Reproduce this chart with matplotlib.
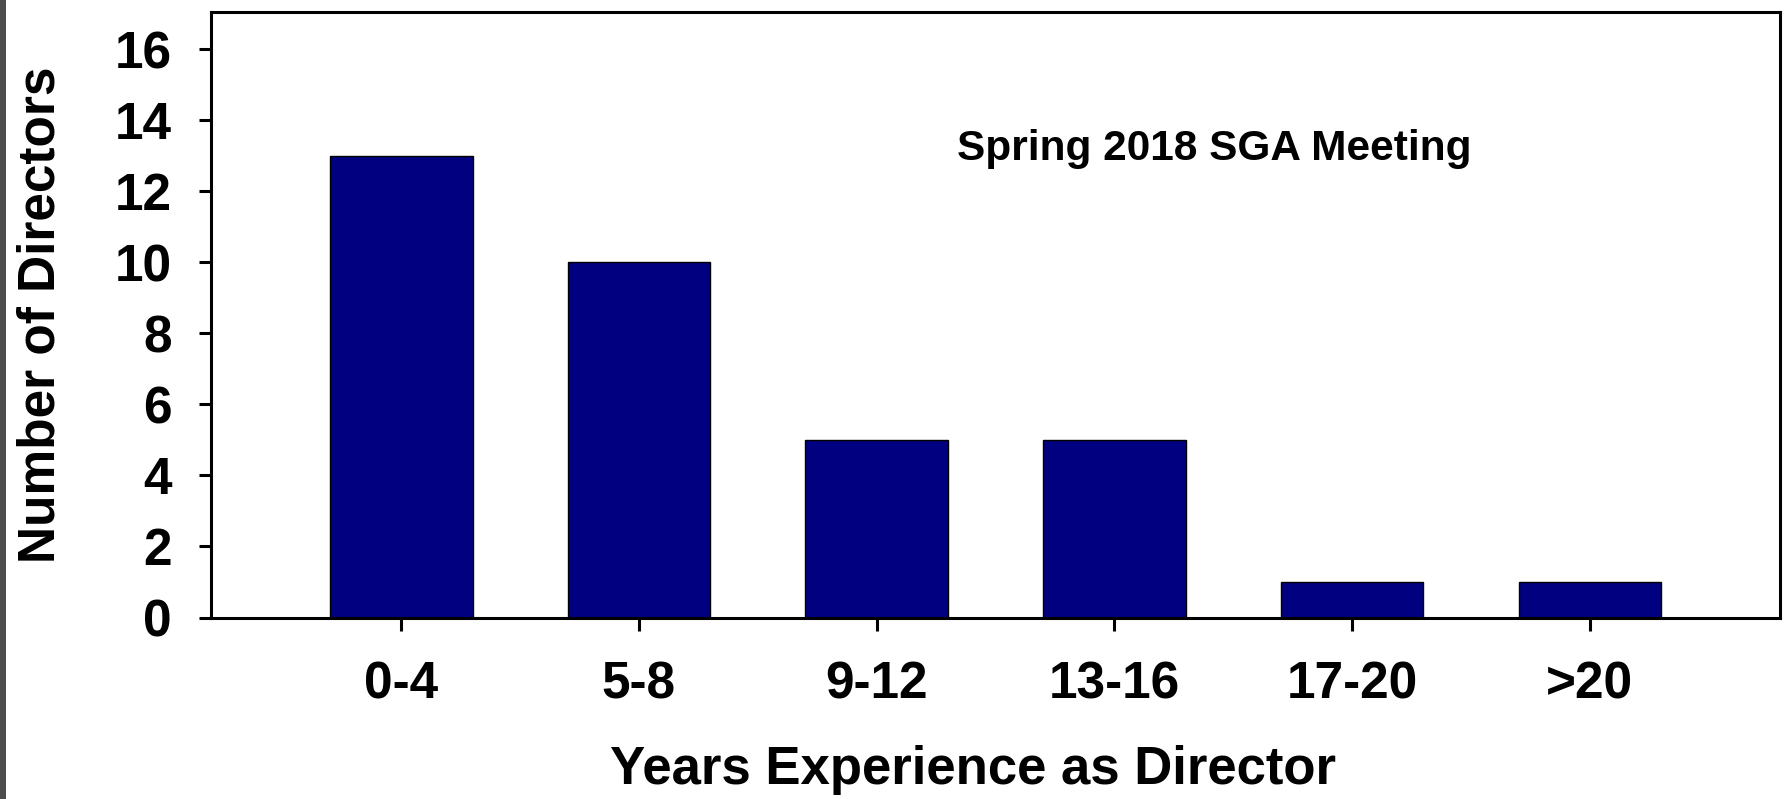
import matplotlib
matplotlib.use("Agg")
import matplotlib.pyplot as plt
from matplotlib.patches import Rectangle

categories = ["0-4", "5-8", "9-12", "13-16", "17-20", ">20"]
directors = [13, 10, 5, 5, 1, 1]
yticks = [0, 2, 4, 6, 8, 10, 12, 14, 16]

plt.rcParams['font.family'] = ['Liberation Sans', 'DejaVu Sans']
plt.rcParams['font.weight'] = 'bold'

fig = plt.figure(figsize=(17.87, 7.99), dpi=100)
fig.patch.set_facecolor('white')
ax = fig.add_axes([211/1787, 1 - 617.5/799, (1780-211)/1787, (617.5-12)/799])

x = list(range(len(categories)))
ax.bar(x, directors, width=0.6, color='#000080', edgecolor='black', linewidth=1.0, zorder=2)

ax.set_xlim(-0.8, 5.8)
ax.set_ylim(0, 17.05)
ax.set_yticks(yticks)
ax.set_xticks(x)
ax.set_xticklabels(categories)

for s in ax.spines.values():
    s.set_linewidth(2.2)
    s.set_color('black')

ax.tick_params(axis='both', direction='out', length=9, width=2.2, labelsize=37, colors='black')
ax.tick_params(axis='y', pad=19)
ax.tick_params(axis='x', pad=22)

ax.set_xlabel("Years Experience as Director", fontsize=38, fontweight='bold')
ax.set_ylabel("Number of Directors", fontsize=37, fontweight='bold')
ax.xaxis.set_label_coords((973-211)/(1780-211), -(745-617.5)/(617.5-12))
ax.yaxis.set_label_coords(-(211-66)/(1780-211), 0.5)

ax.text(3.42, 13.2, "Spring 2018 SGA Meeting", fontsize=30.5, fontweight='bold',
        ha='center', va='center')

fig.patches.append(Rectangle((0, 0), 6/1787, 1, transform=fig.transFigure,
                             facecolor='#4d4d4d', edgecolor='none', zorder=5))

fig.savefig("out.png", dpi=100)
